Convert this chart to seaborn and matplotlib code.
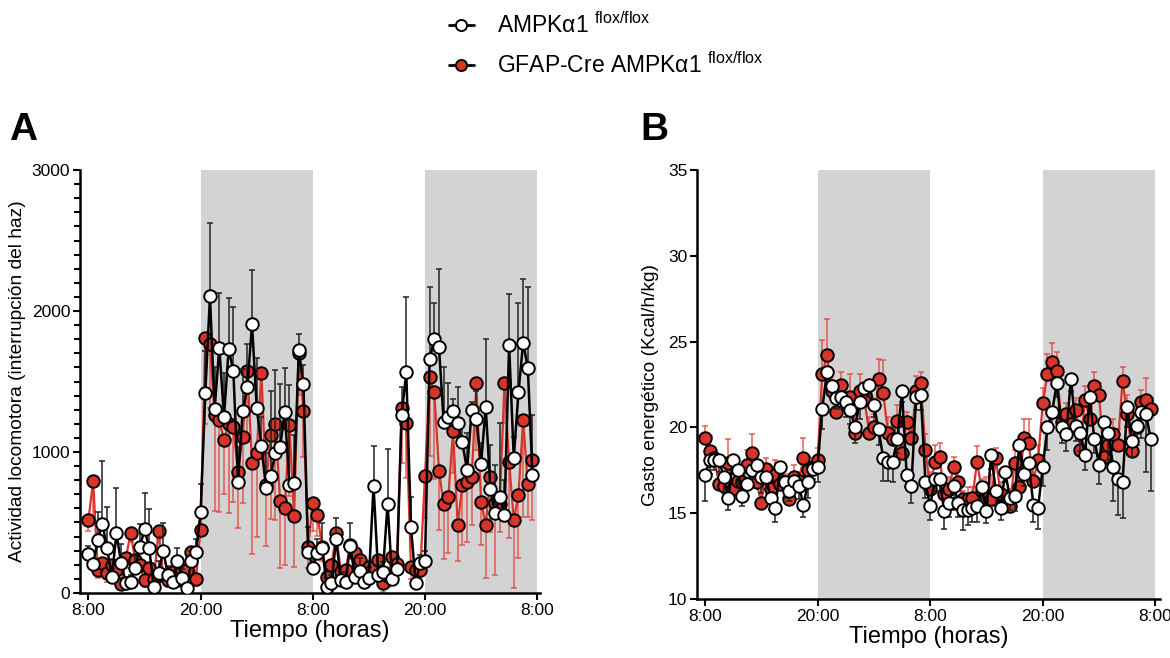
import numpy as np
import pandas as pd
import matplotlib
matplotlib.use("Agg")
import matplotlib.pyplot as plt
from matplotlib.lines import Line2D
from matplotlib.ticker import MultipleLocator
import seaborn as sns

# time in hours from 8:00, one point every 30 min
hours = np.arange(96) * 0.5

# A - locomotor activity (beam breaks)
act_ctrl = [276, 206, 376, 489, 317, 111, 423, 210, 73, 75, 175, 324, 452, 317, 40, 144,
            298, 128, 76, 227, 109, 33, 227, 290, 572, 1418, 2105, 1305, 1740, 1250, 1730, 1576,
            789, 1290, 1463, 1907, 1312, 1045, 742, 830, 995, 1035, 1286, 766, 780, 1723, 1482, 293,
            177, 286, 317, 45, 71, 380, 92, 80, 336, 116, 158, 80, 104, 759, 128, 151,
            631, 97, 168, 1262, 1565, 470, 73, 210, 229, 1659, 1799, 1742, 1215, 1250, 1290, 1203,
            1068, 872, 1297, 1233, 912, 1321, 735, 565, 683, 553, 1758, 955, 1423, 1775, 1597, 837]
act_ctrl_err = [60, 80, 200, 450, 290, 60, 320, 140, 40, 50, 90, 165, 260, 280, 40, 80,
                200, 60, 50, 90, 60, 40, 70, 90, 200, 300, 516, 300, 385, 310, 360, 455,
                250, 300, 300, 383, 354, 200, 250, 600, 586, 447, 310, 710, 340, 113, 135, 177,
                80, 100, 180, 60, 60, 150, 60, 70, 160, 80, 90, 60, 80, 283, 70, 70,
                388, 60, 80, 196, 536, 213, 50, 60, 70, 513, 259, 553, 385, 237, 83, 260,
                150, 260, 60, 200, 150, 478, 314, 342, 520, 250, 360, 150, 635, 451, 570, 425]
act_cre = [518, 794, 163, 210, 140, 199, 163, 64, 246, 423, 234, 199, 92, 175, 97, 440,
           128, 92, 151, 92, 163, 163, 293, 99, 447, 1808, 1765, 1262, 1227, 1085, 1198, 1180,
           860, 1106, 1574, 921, 995, 1560, 766, 1120, 1198, 655, 602, 1191, 546, 1702, 1290, 326,
           640, 553, 328, 111, 199, 423, 151, 163, 340, 281, 234, 120, 182, 182, 234, 69,
           120, 257, 206, 1314, 1207, 182, 163, 163, 830, 1529, 1423, 865, 629, 683, 1149, 482,
           766, 789, 820, 1487, 643, 482, 825, 636, 631, 1487, 931, 518, 695, 1227, 773, 943]
act_cre_err = [80, 250, 60, 50, 60, 50, 60, 40, 70, 60, 60, 50, 50, 60, 40, 60,
               40, 50, 50, 40, 50, 40, 60, 50, 40, 610, 450, 680, 655, 380, 633, 537,
               401, 470, 500, 645, 596, 300, 430, 595, 680, 480, 400, 500, 364, 300, 324, 150,
               200, 150, 100, 80, 60, 120, 60, 60, 100, 80, 60, 60, 80, 100, 50, 60,
               80, 60, 60, 390, 390, 80, 60, 50, 300, 558, 617, 418, 390, 397, 300, 253,
               426, 425, 338, 473, 303, 378, 390, 508, 196, 282, 543, 485, 449, 686, 232, 425]

# B - energy expenditure (Kcal/h/kg)
ee_ctrl = [17.2, 18.1, 18.1, 18.1, 17.1, 15.9, 18.1, 17.5, 16.0, 16.7, 17.5, 17.8, 17.1, 17.1, 15.9, 15.3,
           17.7, 16.8, 16.3, 16.9, 16.6, 15.5, 16.8, 17.6, 17.7, 21.1, 23.2, 22.4, 21.7, 21.8, 21.5, 21.0,
           20.0, 21.5, 22.3, 22.5, 21.3, 19.9, 18.2, 18.0, 18.0, 19.3, 22.1, 17.2, 16.6, 21.8, 21.9, 16.8,
           15.4, 17.0, 17.0, 15.1, 15.6, 16.6, 15.6, 15.2, 15.2, 15.3, 15.4, 16.5, 15.1, 18.4, 16.3, 15.3,
           17.4, 15.9, 16.0, 19.0, 17.3, 17.9, 15.5, 15.3, 17.7, 20.0, 20.9, 22.6, 20.0, 19.6, 22.8, 20.1,
           19.7, 18.4, 21.8, 19.3, 17.8, 20.3, 19.7, 17.7, 17.0, 16.8, 21.2, 19.2, 20.1, 20.9, 20.8, 19.3]
ee_ctrl_err = [1.5, 0.8, 0.6, 0.7, 0.9, 0.7, 0.6, 0.8, 0.6, 0.7, 0.9, 0.8, 0.9, 0.7, 0.7, 0.8,
               0.7, 0.9, 0.6, 0.6, 0.8, 0.7, 0.9, 0.6, 0.9, 1.2, 0.9, 0.7, 0.6, 0.7, 0.9, 0.8,
               0.9, 1.0, 0.8, 0.7, 0.7, 0.9, 1.3, 1.1, 1.2, 0.8, 0.6, 0.7, 1.0, 0.8, 0.9, 0.9,
               0.8, 0.8, 0.7, 1.0, 0.8, 1.4, 0.8, 1.2, 0.9, 0.8, 0.9, 0.7, 0.7, 0.8, 0.9, 0.7,
               0.6, 0.7, 0.9, 0.8, 0.7, 0.9, 1.0, 1.2, 1.1, 1.3, 0.9, 0.8, 0.9, 1.0, 0.7, 0.9,
               1.1, 0.9, 1.0, 0.8, 1.1, 0.9, 1.6, 2.0, 2.1, 2.1, 1.2, 0.9, 1.1, 1.5, 3.4, 3.0]
ee_cre = [19.4, 18.6, 18.2, 16.7, 16.6, 17.9, 16.4, 16.9, 16.8, 17.8, 18.5, 16.8, 15.6, 17.6, 16.4, 17.2,
          16.7, 16.8, 15.8, 17.1, 16.9, 18.2, 17.5, 17.7, 18.1, 23.1, 24.2, 22.1, 20.9, 22.5, 21.6, 21.8,
          19.7, 22.1, 21.6, 19.7, 20.0, 22.8, 22.0, 19.7, 19.3, 20.4, 18.5, 20.3, 19.4, 22.1, 22.6, 18.7,
          16.4, 18.0, 18.3, 16.1, 16.4, 17.7, 16.8, 15.8, 15.8, 15.9, 18.0, 16.3, 15.9, 15.8, 18.2, 16.1,
          15.4, 15.4, 17.9, 16.5, 19.4, 19.1, 16.9, 18.1, 21.4, 23.1, 23.8, 23.3, 20.3, 20.8, 20.2, 21.0,
          18.7, 21.6, 20.5, 22.4, 21.9, 18.3, 19.0, 19.6, 19.0, 22.7, 20.8, 18.6, 20.0, 21.5, 21.6, 21.1]
ee_cre_err = [0.7, 0.9, 0.5, 0.6, 0.5, 1.4, 0.5, 0.6, 0.5, 0.9, 1.1, 0.6, 1.0, 0.6, 0.5, 0.9,
              0.7, 0.5, 0.6, 0.7, 0.5, 1.2, 0.8, 0.5, 0.7, 2.0, 2.1, 1.2, 0.8, 0.7, 0.9, 1.3,
              0.9, 1.0, 0.7, 0.9, 0.8, 1.2, 1.9, 0.9, 0.8, 0.9, 1.0, 0.6, 0.7, 0.9, 0.6, 0.9,
              1.0, 1.0, 0.8, 0.8, 0.7, 0.6, 0.7, 0.5, 0.7, 0.6, 0.9, 0.7, 1.2, 1.4, 0.6, 0.7,
              0.9, 1.0, 0.8, 0.9, 1.1, 1.4, 1.0, 0.9, 0.9, 1.2, 1.1, 1.1, 0.7, 0.6, 0.8, 0.7,
              1.0, 0.8, 0.9, 0.8, 0.7, 1.0, 1.2, 0.9, 0.9, 0.8, 1.1, 1.0, 1.2, 0.7, 1.3, 0.6]

tick_pos = [0, 12, 24, 36, 48]
tick_labels = ['8:00', '20:00', '8:00', '20:00', '8:00']
dark_periods = [(12, 24), (36, 48)]

RED = '#d8342a'
RED_BAR = '#e2453c'

sns.set_style("ticks")
plt.rcParams['font.family'] = ['Liberation Sans', 'DejaVu Sans']
plt.rcParams['mathtext.fontset'] = 'custom'
plt.rcParams['mathtext.rm'] = 'Liberation Sans'
plt.rcParams['mathtext.default'] = 'regular'
for key in ('text.color', 'axes.labelcolor', 'xtick.color', 'ytick.color', 'axes.edgecolor'):
    plt.rcParams[key] = 'black'


def draw_panel(ax, ctrl, ctrl_err, cre, cre_err, ctrl_up):
    df = pd.DataFrame({'h': hours, 'ctrl': ctrl, 'cre': cre})
    z = np.zeros(len(hours))
    for a, b in dark_periods:
        ax.axvspan(a, b, color='#d3d3d3', lw=0, zorder=0)
    # red group
    cre_yerr = [z, cre_err] if not ctrl_up else [cre_err, z]
    ax.errorbar(df['h'], df['cre'], yerr=cre_yerr, fmt='none', ecolor=RED_BAR,
                elinewidth=1.1, capsize=2.5, capthick=1.1, alpha=0.85, zorder=2)
    sns.lineplot(data=df, x='h', y='cre', ax=ax, color=RED, lw=1.6, marker='o',
                 markersize=9, markerfacecolor=RED, markeredgecolor='black',
                 markeredgewidth=1.4, zorder=3)
    # white group
    ctrl_yerr = [z, ctrl_err] if ctrl_up else [ctrl_err, z]
    ax.errorbar(df['h'], df['ctrl'], yerr=ctrl_yerr, fmt='none', ecolor='#222222',
                elinewidth=1.1, capsize=2.5, capthick=1.1, zorder=4)
    sns.lineplot(data=df, x='h', y='ctrl', ax=ax, color='black', lw=1.8, marker='o',
                 markersize=9, markerfacecolor='white', markeredgecolor='black',
                 markeredgewidth=1.4, zorder=5)
    ax.set_xticks(tick_pos)
    ax.set_xticklabels(tick_labels)
    ax.set_xlabel('Tiempo (horas)', fontsize=17, labelpad=2)
    ax.tick_params(axis='both', labelsize=12.5, width=1.5, length=5, pad=2, direction='out')
    ax.tick_params(axis='y', which='minor', width=1.5, length=4)
    for s in ('left', 'bottom'):
        ax.spines[s].set_linewidth(1.8)
    sns.despine(ax=ax)


fig = plt.figure(figsize=(11.7, 6.58), dpi=100)
axA = fig.add_axes([0.0684, 0.0988, 0.3931, 0.6428])
axB = fig.add_axes([0.5957, 0.0897, 0.3958, 0.6519])

draw_panel(axA, act_ctrl, act_ctrl_err, act_cre, act_cre_err, ctrl_up=True)
axA.set_xlim(-0.9, 48.3)
axA.set_ylim(0, 3000)
axA.set_yticks([0, 1000, 2000, 3000])
axA.yaxis.set_minor_locator(MultipleLocator(100))
axA.set_ylabel('Actividad locomotora (interrupción del haz)', fontsize=13.8, labelpad=4)

draw_panel(axB, ee_ctrl, ee_ctrl_err, ee_cre, ee_cre_err, ctrl_up=False)
axB.set_xlim(-0.85, 48.5)
axB.set_ylim(10, 35)
axB.set_yticks([10, 15, 20, 25, 30, 35])
axB.set_ylabel('Gasto energético (Kcal/h/kg)', fontsize=13.8, labelpad=6)

fig.text(0.008, 0.787, 'A', fontsize=28, fontweight='bold', va='baseline')
fig.text(0.547, 0.787, 'B', fontsize=28, fontweight='bold', va='baseline')

handles = [
    Line2D([], [], color='black', lw=2, marker='o', markersize=8,
           markerfacecolor='white', markeredgecolor='black', markeredgewidth=1.4),
    Line2D([], [], color='black', lw=2, marker='o', markersize=8,
           markerfacecolor=RED, markeredgecolor='black', markeredgewidth=1.4),
]
labels = ['AMPKα1 $^{flox/flox}$', 'GFAP-Cre AMPKα1 $^{flox/flox}$']
fig.legend(handles, labels, loc='upper left', bbox_to_anchor=(0.366, 1.012),
           frameon=False, fontsize=16.5, handlelength=1.1, labelspacing=0.6,
           handletextpad=1.0)

fig.savefig('out.png', dpi=100)
